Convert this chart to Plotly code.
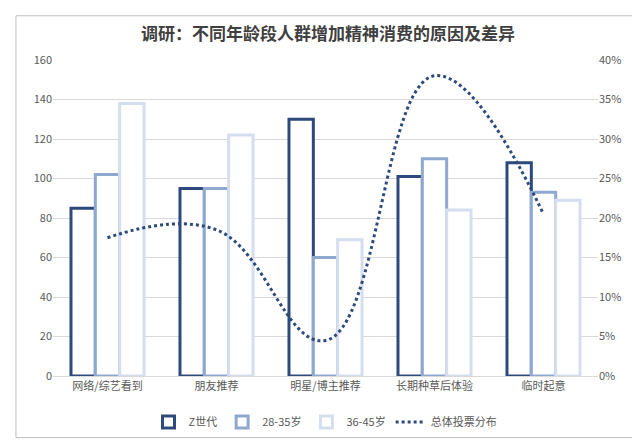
import plotly.graph_objects as go

categories = ["网络/综艺看到", "朋友推荐", "明星/博主推荐", "长期种草后体验", "临时起意"]
gen_z = [85, 95, 130, 101, 108]
age_28_35 = [102, 95, 60, 110, 93]
age_36_45 = [138, 122, 69, 84, 89]
total_share = [0.175, 0.185, 0.045, 0.38, 0.205]

font = "Noto Sans CJK SC"
fig = go.Figure()
for name, vals, col in [("Z世代", gen_z, "#2E4A7D"), ("28-35岁", age_28_35, "#8FA8D0"),
                        ("36-45岁", age_36_45, "#D5DEEE")]:
    fig.add_trace(go.Bar(x=categories, y=vals, name=name, marker=dict(color="white", line=dict(color=col, width=3))))
fig.add_trace(go.Scatter(x=categories, y=total_share, name="总体投票分布", yaxis="y2", mode="lines",
                         line=dict(color="#2E4A7D", width=3, dash="dot", shape="spline", smoothing=1.2)))
fig.update_layout(
    width=640, height=441, margin=dict(l=45, r=50, t=52, b=68),
    paper_bgcolor="white", plot_bgcolor="white",
    title=dict(text="<b>调研：不同年龄段人群增加精神消费的原因及差异</b>", x=0.5, y=0.955, font=dict(family=font, size=17, color="#404040")),
    font=dict(family=font, size=11, color="#595959"),
    barmode="group", bargap=0.33, bargroupgap=0,
    yaxis=dict(range=[0, 160], dtick=20, gridcolor="#D9D9D9", zeroline=False, showline=False),
    yaxis2=dict(range=[0, 0.4], dtick=0.05, tickformat=".0%", overlaying="y", side="right", showgrid=False, zeroline=False),
    xaxis=dict(showline=True, linecolor="#D9D9D9", showgrid=False),
    legend=dict(orientation="h", x=0.5, xanchor="center", y=-0.1, yanchor="top", font=dict(size=11)),
    shapes=[dict(type="rect", xref="paper", yref="paper", x0=-0.068, x1=1.075, y0=-0.195, y1=1.14,
                 line=dict(color="#BFBFBF", width=1))],
)
fig.write_html("out.html")
